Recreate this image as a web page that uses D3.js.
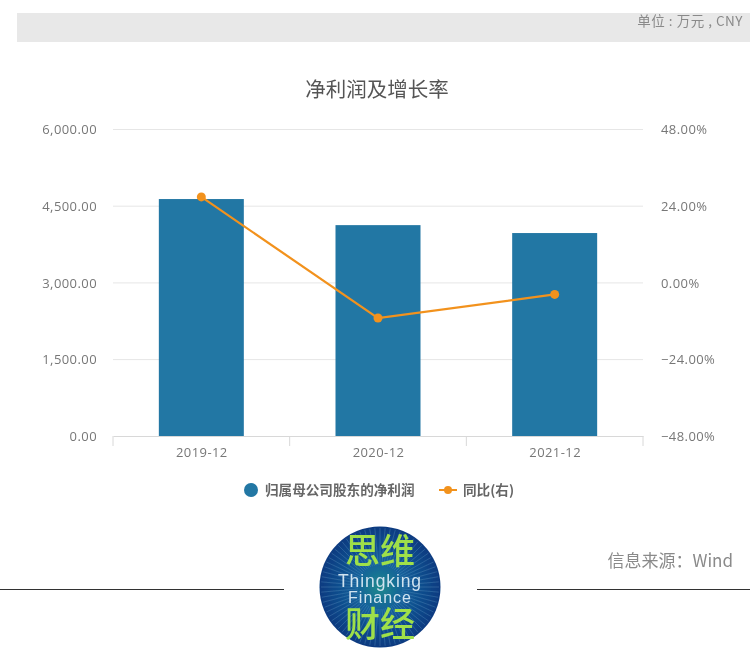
<!DOCTYPE html>
<html><head><meta charset="utf-8">
<script src="https://cdn.jsdelivr.net/npm/d3@7"></script>
<style>html,body{margin:0;padding:0;background:#fff}svg{display:block;font-family:"Noto Sans CJK SC","Open Sans",sans-serif}</style>
</head><body><div id="c"></div>
<script>
const categories = ["2019-12","2020-12","2021-12"];
const profit = [4640,4130,3975];
const growth = [26.9,-11.0,-3.6];
const leftTicks = [0,1500,3000,4500,6000];
const rightTicks = [-48,-24,0,24,48];
const seriesNames = ["归属母公司股东的净利润","同比(右)"];
const title = "净利润及增长率";
const unit = "单位 : 万元 , CNY";
const source = "信息来源：Wind";

const svg = d3.select("#c").append("svg").attr("width",750).attr("height",658);
const defs = svg.append("defs");
const f = defs.append("filter").attr("id","soft").attr("x","-5%").attr("y","-5%").attr("width","110%").attr("height","110%");
f.append("feGaussianBlur").attr("stdDeviation",0.5);
const grad = defs.append("radialGradient").attr("id","logoBg");
grad.append("stop").attr("offset","0%").attr("stop-color","#1f8a8c");
grad.append("stop").attr("offset","40%").attr("stop-color","#13609a");
grad.append("stop").attr("offset","100%").attr("stop-color","#0e3a80");

const root = svg.append("g").attr("filter","url(#soft)");
root.append("rect").attr("x",17).attr("y",13).attr("width",733).attr("height",29).attr("fill","#e8e8e8");
root.append("text").attr("x",743).attr("y",26).attr("text-anchor","end").attr("font-size",13.5).attr("letter-spacing",0.5).attr("fill","#8a8a8a").text(unit);
root.append("text").attr("x",377).attr("y",97).attr("text-anchor","middle").attr("font-size",20.5).attr("fill","#555").text(title);

const band = d3.scalePoint().domain(categories).range([113,643]).padding(0.5);
const y = d3.scaleLinear().domain([0,6000]).range([436.3,129.5]);
const yR = d3.scaleLinear().domain([-48,48]).range([436.3,129.5]);
const tickStyle = s => s.attr("font-size",13).attr("letter-spacing",0.42).attr("fill","#777").attr("font-family","Open Sans");

const gL = root.append("g").attr("transform","translate(113,0)")
  .call(d3.axisLeft(y).tickValues(leftTicks).tickSize(0).tickPadding(16).tickFormat(d3.format(",.2f")));
gL.select(".domain").remove();
gL.selectAll("text").call(tickStyle);
const gR = root.append("g").attr("transform","translate(643,0)")
  .call(d3.axisRight(yR).tickValues(rightTicks).tickSize(0).tickPadding(18).tickFormat(d=>d3.format(".2f")(d)+"%"));
gR.select(".domain").remove();
gR.selectAll("text").call(tickStyle);

root.append("g").selectAll("line").data(leftTicks.slice(1)).join("line")
  .attr("x1",113).attr("x2",643).attr("y1",d=>y(d)).attr("y2",d=>y(d)).attr("stroke","#e6e6e6").attr("stroke-width",1);

root.append("g").selectAll("rect").data(profit).join("rect")
  .attr("x",(d,i)=>band(categories[i])-42.5).attr("width",85)
  .attr("y",d=>y(d)).attr("height",d=>y(0)-y(d)).attr("fill","#2377a4");

const gB = root.append("g").attr("transform","translate(0,436)")
  .call(d3.axisBottom(band).tickSize(0).tickPadding(12));
gB.select(".domain").attr("stroke","#d8d8d8");
gB.selectAll("text").call(tickStyle);
const step = band.step();
root.append("g").selectAll("line").data(d3.range(4)).join("line")
  .attr("x1",d=>113+d*step).attr("x2",d=>113+d*step).attr("y1",436).attr("y2",446).attr("stroke","#d8d8d8");

const line = d3.line().x((d,i)=>band(categories[i])).y(d=>yR(d));
root.append("path").datum(growth).attr("d",line).attr("fill","none").attr("stroke","#f2921f").attr("stroke-width",2.2);
root.append("g").selectAll("circle").data(growth).join("circle")
  .attr("cx",(d,i)=>band(categories[i])).attr("cy",d=>yR(d)).attr("r",4.5).attr("fill","#f2921f");

root.append("circle").attr("cx",251).attr("cy",490).attr("r",7).attr("fill","#2377a4");
root.append("text").attr("x",265).attr("y",495).attr("font-size",13.6).attr("font-weight",700).attr("fill","#666").text(seriesNames[0]);
root.append("line").attr("x1",439).attr("x2",457).attr("y1",490).attr("y2",490).attr("stroke","#f2921f").attr("stroke-width",2);
root.append("circle").attr("cx",448).attr("cy",490).attr("r",4).attr("fill","#f2921f");
root.append("text").attr("x",463).attr("y",495).attr("font-size",13.6).attr("font-weight",700).attr("fill","#666").text(seriesNames[1]);

root.append("text").attr("x",733).attr("y",567).attr("text-anchor","end").attr("font-size",17).attr("fill","#8a8a8a").text(source);
root.append("line").attr("x1",0).attr("x2",284).attr("y1",589.5).attr("y2",589.5).attr("stroke","#333").attr("stroke-width",1.2);
root.append("line").attr("x1",477).attr("x2",750).attr("y1",589.5).attr("y2",589.5).attr("stroke","#333").attr("stroke-width",1.2);

const lg = root.append("g").attr("transform","translate(380,587)");
lg.append("circle").attr("r",60.5).attr("fill","url(#logoBg)");
lg.append("g").selectAll("line").data(d3.range(0,360,5)).join("line")
  .attr("x1",d=>22*Math.cos(d*Math.PI/180)).attr("y1",d=>22*Math.sin(d*Math.PI/180))
  .attr("x2",d=>59*Math.cos(d*Math.PI/180)).attr("y2",d=>59*Math.sin(d*Math.PI/180))
  .attr("stroke","#5a96c0").attr("stroke-opacity",.35).attr("stroke-width",1);
const logoTxt = (t,y0,size,fill,fam,w,ls)=>lg.append("text").attr("x",0).attr("y",y0).attr("text-anchor","middle")
  .attr("font-size",size).attr("fill",fill).attr("font-family",fam).attr("font-weight",w).attr("letter-spacing",ls).text(t);
logoTxt("思维",-23,35,"#9fe04a","Noto Sans CJK SC",500,0);
logoTxt("Thingking",0,17.5,"#cfe3f0","Liberation Sans",400,0.9);
logoTxt("Finance",16,16,"#cfe3f0","Liberation Sans",400,1);
logoTxt("财经",50,35,"#9fe04a","Noto Sans CJK SC",500,0);
</script></body></html>
